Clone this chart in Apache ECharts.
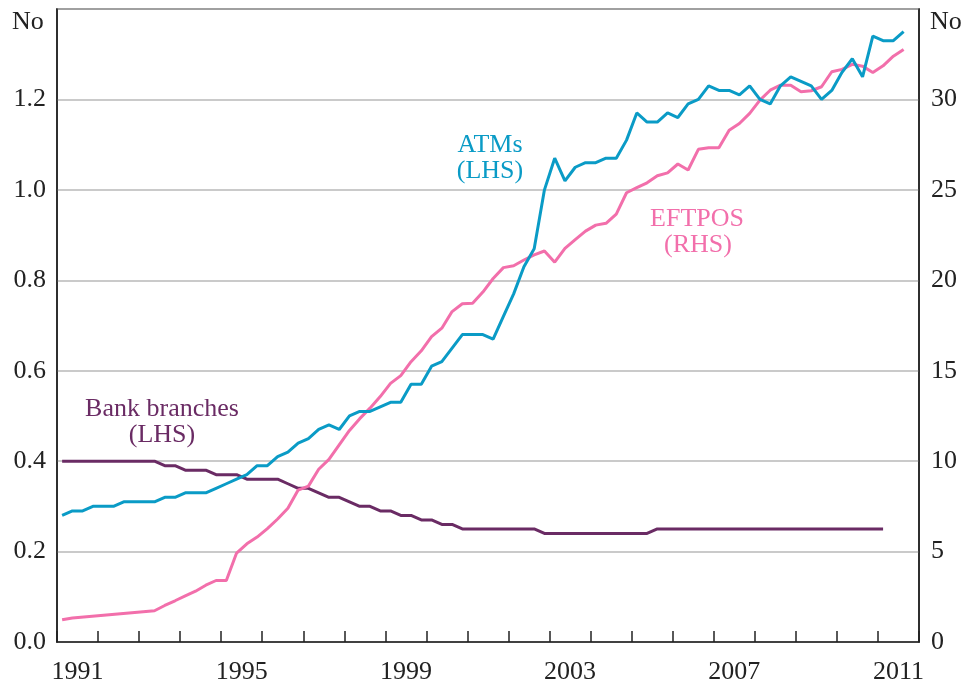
<!DOCTYPE html>
<html>
<head>
<meta charset="utf-8">
<script src="https://cdn.jsdelivr.net/npm/echarts@6/dist/echarts.min.js"></script>
<style>
  html, body { margin: 0; padding: 0; background: #fff; }
  #chart { width: 966px; height: 686px; }
</style>
</head>
<body>
<div id="chart"></div>
<script>
// years on the axis (labels every 4th)
var years = ['1991','1992','1993','1994','1995','1996','1997','1998','1999','2000',
             '2001','2002','2003','2004','2005','2006','2007','2008','2009','2010','2011'];

// quarterly data, 1991 Q1 to 2011 Q3
var atms = [0.28, 0.29, 0.29, 0.30, 0.30, 0.30, 0.31, 0.31, 0.31, 0.31,
            0.32, 0.32, 0.33, 0.33, 0.33, 0.34, 0.35, 0.36, 0.37, 0.39,
            0.39, 0.41, 0.42, 0.44, 0.45, 0.47, 0.48, 0.47, 0.50, 0.51,
            0.51, 0.52, 0.53, 0.53, 0.57, 0.57, 0.61, 0.62, 0.65, 0.68,
            0.68, 0.68, 0.67, 0.72, 0.77, 0.83, 0.87, 1.00, 1.07, 1.02,
            1.05, 1.06, 1.06, 1.07, 1.07, 1.11, 1.17, 1.15, 1.15, 1.17,
            1.16, 1.19, 1.20, 1.23, 1.22, 1.22, 1.21, 1.23, 1.20, 1.19,
            1.23, 1.25, 1.24, 1.23, 1.20, 1.22, 1.26, 1.29, 1.25, 1.34,
            1.33, 1.33, 1.35];

var branches = [0.40, 0.40, 0.40, 0.40, 0.40, 0.40, 0.40, 0.40, 0.40, 0.40,
                0.39, 0.39, 0.38, 0.38, 0.38, 0.37, 0.37, 0.37, 0.36, 0.36,
                0.36, 0.36, 0.35, 0.34, 0.34, 0.33, 0.32, 0.32, 0.31, 0.30,
                0.30, 0.29, 0.29, 0.28, 0.28, 0.27, 0.27, 0.26, 0.26, 0.25,
                0.25, 0.25, 0.25, 0.25, 0.25, 0.25, 0.25, 0.24, 0.24, 0.24,
                0.24, 0.24, 0.24, 0.24, 0.24, 0.24, 0.24, 0.24, 0.25, 0.25,
                0.25, 0.25, 0.25, 0.25, 0.25, 0.25, 0.25, 0.25, 0.25, 0.25,
                0.25, 0.25, 0.25, 0.25, 0.25, 0.25, 0.25, 0.25, 0.25, 0.25,
                0.25, null, null];

// no readings between early 1991 and late 1993 (straight segment)
var eftpos = [1.23, 1.33, null, null, null, null, null, null, null, 1.73,
              2.02, 2.28, 2.55, 2.81, 3.14, 3.40, 3.40, 4.92, 5.43, 5.80,
              6.27, 6.80, 7.40, 8.40, 8.62, 9.55, 10.10, 10.90, 11.70, 12.35,
              12.93, 13.57, 14.30, 14.73, 15.50, 16.10, 16.88, 17.35, 18.27, 18.70,
              18.73, 19.35, 20.10, 20.70, 20.80, 21.12, 21.40, 21.62, 21.00, 21.77,
              22.25, 22.72, 23.05, 23.15, 23.66, 24.84, 25.12, 25.39, 25.78, 25.94,
              26.43, 26.10, 27.24, 27.33, 27.33, 28.30, 28.67, 29.23, 29.96, 30.51,
              30.79, 30.79, 30.42, 30.48, 30.70, 31.53, 31.66, 31.94, 31.84, 31.49,
              31.86, 32.39, 32.76];

// mid-quarter positions in years
var quarters = [];
for (var y = 1991; y <= 2011; y++) {
    for (var q = 1; q <= 4; q++) {
        quarters.push(y + (q - 0.5) / 4);
    }
}

function pairs(vals) {
    return vals.map(function (v, i) { return [quarters[i], v]; });
}

var font = 'Liberation Serif';
var blue = '#0a9bc6';
var pink = '#f26fab';
var purple = '#6a2b64';

var myChart = echarts.init(document.getElementById('chart'));

option = {
    animation: false,
    grid: {
        left: 57,
        right: 47,
        top: 9,
        bottom: 44,
        show: true,
        borderColor: '#222',
        borderWidth: 1.5
    },
    xAxis: [
        {
            type: 'category',
            data: years,
            boundaryGap: true,
            axisLine: { show: true, lineStyle: { color: '#222', width: 1.5 } },
            axisTick: { show: true, inside: true, length: 11, interval: 0, lineStyle: { color: '#222', width: 1.5 } },
            axisLabel: { show: true, interval: 3, margin: 17, fontFamily: font, fontSize: 26, color: '#222' },
            splitLine: { show: false },
            z: 5
        },
        {
            type: 'value',
            min: 1991,
            max: 2012,
            show: false
        }
    ],
    yAxis: [
        {
            type: 'value',
            min: 0,
            max: 1.4,
            interval: 0.2,
            axisLine: { show: true, lineStyle: { color: '#222', width: 1.5 } },
            axisTick: { show: false },
            axisLabel: {
                margin: 11,
                fontFamily: font, fontSize: 26, color: '#222',
                formatter: function (v) { return v > 1.3 ? '' : v.toFixed(1); }
            },
            splitLine: { lineStyle: { color: '#b9b9b9', width: 1.5 } }
        },
        {
            type: 'value',
            min: 0,
            max: 35,
            interval: 5,
            position: 'right',
            axisLine: { show: true, lineStyle: { color: '#222', width: 1.5 } },
            axisTick: { show: false },
            axisLabel: {
                margin: 12,
                fontFamily: font, fontSize: 26, color: '#222',
                formatter: function (v) { return v > 30 ? '' : String(v); }
            },
            splitLine: { show: false }
        }
    ],
    graphic: [
        { type: 'text', left: 12, top: 9, style: { text: 'No', font: '26px "Liberation Serif"', fill: '#222' } },
        { type: 'text', left: 930, top: 9, style: { text: 'No', font: '26px "Liberation Serif"', fill: '#222' } },
        { type: 'text', x: 490, y: 145, style: { text: 'ATMs', font: '26px "Liberation Serif"', fill: blue, textAlign: 'center', textVerticalAlign: 'middle' } },
        { type: 'text', x: 490, y: 171, style: { text: '(LHS)', font: '26px "Liberation Serif"', fill: blue, textAlign: 'center', textVerticalAlign: 'middle' } },
        { type: 'text', x: 697, y: 219, style: { text: 'EFTPOS', font: '26px "Liberation Serif"', fill: pink, textAlign: 'center', textVerticalAlign: 'middle' } },
        { type: 'text', x: 698, y: 245, style: { text: '(RHS)', font: '26px "Liberation Serif"', fill: pink, textAlign: 'center', textVerticalAlign: 'middle' } },
        { type: 'text', x: 162, y: 409, style: { text: 'Bank branches', font: '26px "Liberation Serif"', fill: purple, textAlign: 'center', textVerticalAlign: 'middle' } },
        { type: 'text', x: 162, y: 435, style: { text: '(LHS)', font: '26px "Liberation Serif"', fill: purple, textAlign: 'center', textVerticalAlign: 'middle' } }
    ],
    series: [
        {
            name: 'Bank branches',
            type: 'line',
            xAxisIndex: 1,
            yAxisIndex: 0,
            showSymbol: false,
            lineStyle: { color: purple, width: 3 },
            data: pairs(branches)
        },
        {
            name: 'EFTPOS',
            type: 'line',
            xAxisIndex: 1,
            yAxisIndex: 1,
            showSymbol: false,
            connectNulls: true,
            lineStyle: { color: pink, width: 3 },
            data: pairs(eftpos)
        },
        {
            name: 'ATMs',
            type: 'line',
            xAxisIndex: 1,
            yAxisIndex: 0,
            showSymbol: false,
            lineStyle: { color: blue, width: 3 },
            data: pairs(atms)
        }
    ]
};

myChart.setOption(option);
</script>
</body>
</html>
